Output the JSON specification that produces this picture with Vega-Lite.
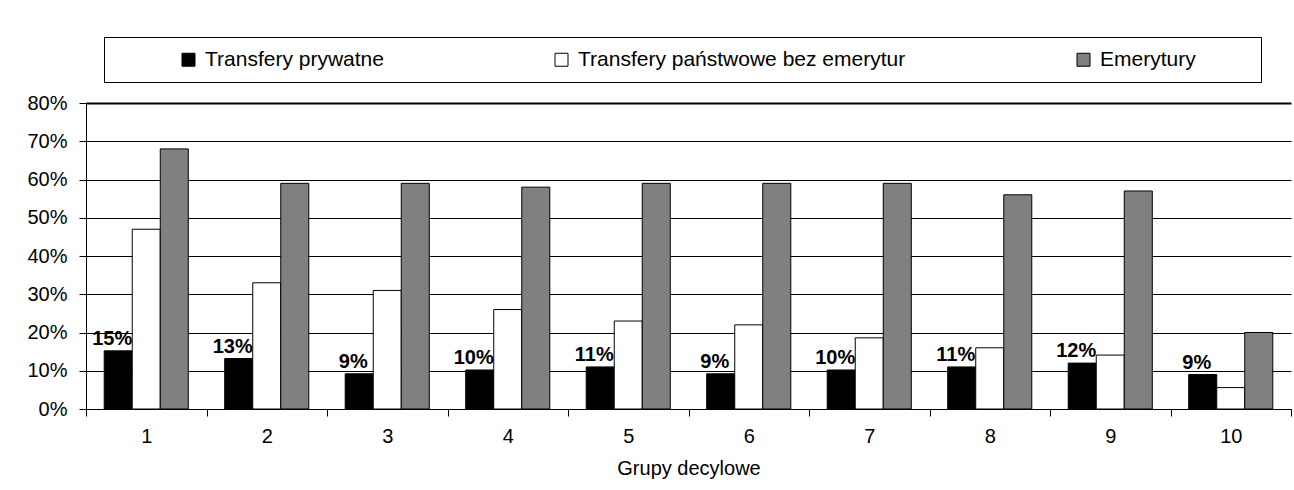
{
  "$schema": "https://vega.github.io/schema/vega-lite/v6.json",
  "width": 1205,
  "height": 306,
  "padding": {"left": 26, "top": 36, "right": 0, "bottom": 4},
  "background": "white",
  "config": {
    "font": "Liberation Sans",
    "view": {"stroke": null},
    "axis": {
      "labelFont": "Liberation Sans",
      "titleFont": "Liberation Sans",
      "labelFontSize": 20,
      "titleFontSize": 20,
      "titleFontWeight": "normal",
      "labelColor": "black",
      "titleColor": "black",
      "domainColor": "black",
      "tickColor": "black",
      "gridColor": "black",
      "gridOpacity": 1,
      "tickSize": 7
    }
  },
  "data": {
    "values": [
      {"grupa": 1, "seria": "Transfery prywatne", "wartosc": 0.152},
      {"grupa": 1, "seria": "Transfery państwowe bez emerytur", "wartosc": 0.47},
      {"grupa": 1, "seria": "Emerytury", "wartosc": 0.68},
      {"grupa": 2, "seria": "Transfery prywatne", "wartosc": 0.132},
      {"grupa": 2, "seria": "Transfery państwowe bez emerytur", "wartosc": 0.33},
      {"grupa": 2, "seria": "Emerytury", "wartosc": 0.59},
      {"grupa": 3, "seria": "Transfery prywatne", "wartosc": 0.092},
      {"grupa": 3, "seria": "Transfery państwowe bez emerytur", "wartosc": 0.31},
      {"grupa": 3, "seria": "Emerytury", "wartosc": 0.59},
      {"grupa": 4, "seria": "Transfery prywatne", "wartosc": 0.102},
      {"grupa": 4, "seria": "Transfery państwowe bez emerytur", "wartosc": 0.26},
      {"grupa": 4, "seria": "Emerytury", "wartosc": 0.58},
      {"grupa": 5, "seria": "Transfery prywatne", "wartosc": 0.11},
      {"grupa": 5, "seria": "Transfery państwowe bez emerytur", "wartosc": 0.23},
      {"grupa": 5, "seria": "Emerytury", "wartosc": 0.59},
      {"grupa": 6, "seria": "Transfery prywatne", "wartosc": 0.092},
      {"grupa": 6, "seria": "Transfery państwowe bez emerytur", "wartosc": 0.22},
      {"grupa": 6, "seria": "Emerytury", "wartosc": 0.59},
      {"grupa": 7, "seria": "Transfery prywatne", "wartosc": 0.102},
      {"grupa": 7, "seria": "Transfery państwowe bez emerytur", "wartosc": 0.186},
      {"grupa": 7, "seria": "Emerytury", "wartosc": 0.59},
      {"grupa": 8, "seria": "Transfery prywatne", "wartosc": 0.11},
      {"grupa": 8, "seria": "Transfery państwowe bez emerytur", "wartosc": 0.16},
      {"grupa": 8, "seria": "Emerytury", "wartosc": 0.56},
      {"grupa": 9, "seria": "Transfery prywatne", "wartosc": 0.12},
      {"grupa": 9, "seria": "Transfery państwowe bez emerytur", "wartosc": 0.141},
      {"grupa": 9, "seria": "Emerytury", "wartosc": 0.57},
      {"grupa": 10, "seria": "Transfery prywatne", "wartosc": 0.09},
      {"grupa": 10, "seria": "Transfery państwowe bez emerytur", "wartosc": 0.056},
      {"grupa": 10, "seria": "Emerytury", "wartosc": 0.2}
    ]
  },
  "encoding": {
    "x": {
      "field": "grupa",
      "type": "ordinal",
      "scale": {"paddingInner": 0, "paddingOuter": 0},
      "axis": {
        "title": "Grupy decylowe",
        "labelAngle": 0,
        "tickBand": "extent",
        "labelPadding": 10,
        "titlePadding": 12,
        "grid": false
      }
    },
    "xOffset": {
      "field": "seria",
      "type": "nominal",
      "scale": {
        "domain": ["Transfery prywatne", "Transfery państwowe bez emerytur", "Emerytury"],
        "paddingInner": 0,
        "paddingOuter": 0.65
      }
    },
    "y": {
      "field": "wartosc",
      "type": "quantitative",
      "scale": {"domain": [0, 0.8], "nice": false},
      "axis": {
        "title": null,
        "format": ".0%",
        "values": [0, 0.1, 0.2, 0.3, 0.4, 0.5, 0.6, 0.7, 0.8],
        "labelPadding": 12,
        "grid": true,
        "gridWidth": {"condition": {"test": "datum.value >= 0.8", "value": 2}, "value": 1}
      }
    }
  },
  "layer": [
    {
      "mark": {"type": "bar", "stroke": "black", "strokeWidth": 1, "opacity": 1},
      "encoding": {
        "color": {
          "field": "seria",
          "type": "nominal",
          "scale": {
            "domain": ["Transfery prywatne", "Transfery państwowe bez emerytur", "Emerytury"],
            "range": ["#000000", "#ffffff", "#808080"]
          },
          "legend": {
            "orient": "none",
            "legendX": 18,
            "legendY": -66,
            "direction": "horizontal",
            "title": "\u00a0",
            "titleOrient": "left",
            "titleFontSize": 10,
            "titlePadding": 62,
            "strokeColor": "black",
            "padding": 12,
            "symbolType": "square",
            "symbolSize": 169,
            "symbolStrokeColor": "black",
            "symbolStrokeWidth": 1,
            "symbolOpacity": 1,
            "labelFont": "Liberation Sans",
            "labelFontSize": 21,
            "labelColor": "black",
            "labelOffset": 6,
            "labelLimit": 800,
            "columnPadding": 167,
            "labelExpr": "datum.label == 'Emerytury' ? 'Emerytury\u00a0\u00a0\u00a0\u00a0\u00a0\u00a0\u00a0\u00a0\u00a0\u200b' : datum.label"
          }
        }
      }
    },
    {
      "transform": [{"filter": "datum.seria == 'Transfery prywatne'"}],
      "mark": {
        "type": "text",
        "fontWeight": "bold",
        "fontSize": 20,
        "baseline": "alphabetic",
        "align": "center",
        "dy": -6,
        "dx": -6,
        "color": "black"
      },
      "encoding": {
        "text": {"field": "wartosc", "type": "quantitative", "format": ".0%"}
      }
    }
  ]
}
